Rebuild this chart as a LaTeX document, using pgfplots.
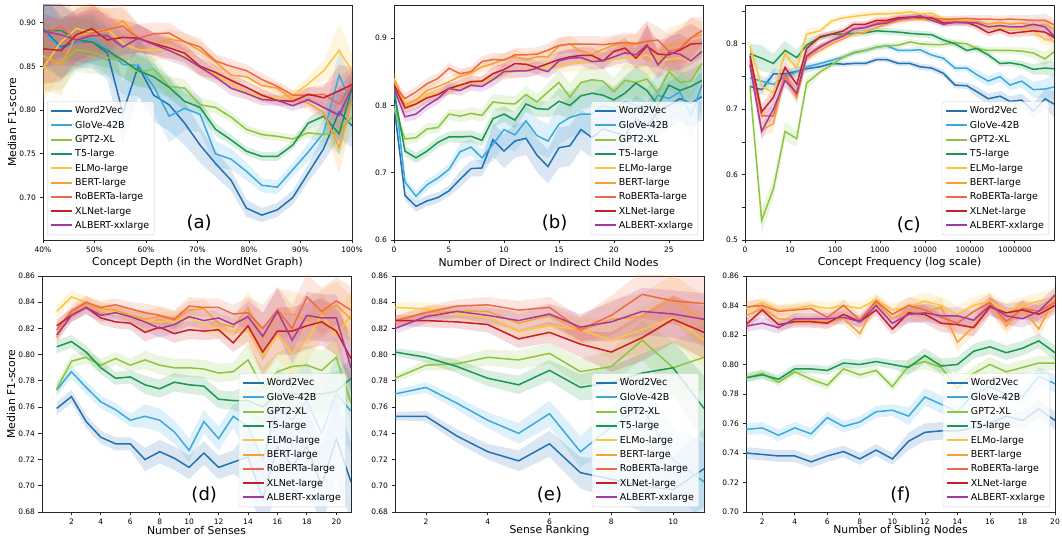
\documentclass[border=0pt]{standalone}
\usepackage{fontspec}
\setmainfont{DejaVu Sans}
\usepackage{pgfplots}
\usepackage{pgfplotstable}
\pgfplotsset{compat=1.18}
\usepgfplotslibrary{fillbetween}

\definecolor{cw}{HTML}{2171B5}
\definecolor{cg}{HTML}{3BA8DE}
\definecolor{cp}{HTML}{8CC63F}
\definecolor{ct}{HTML}{1A9850}
\definecolor{ce}{HTML}{FDC53F}
\definecolor{cb}{HTML}{F89F35}
\definecolor{cr}{HTML}{EE6A45}
\definecolor{cn}{HTML}{C81E26}
\definecolor{ca}{HTML}{A33B9F}

\pgfplotstableread{
x w g p t e b r n a el em eh
40   0.893 0.890 0.862 0.890 0.848 0.862 0.885 0.870 0.890 .040 .040 .040
43.5 0.872 0.870 0.853 0.891 0.878 0.852 0.896 0.868 0.886 .035 .030 .035
46.5 0.878 0.876 0.869 0.880 0.893 0.885 0.878 0.886 0.880 .030 .025 .030
49.5 0.878 0.882 0.866 0.878 0.889 0.888 0.888 0.893 0.885 .030 .025 .030
52.5 0.865 0.870 0.860 0.868 0.892 0.890 0.892 0.880 0.885 .030 .020 .025
55.5 0.797 0.852 0.857 0.857 0.876 0.902 0.896 0.883 0.872 .035 .020 .020
58.5 0.850 0.851 0.843 0.845 0.869 0.882 0.882 0.882 0.882 .035 .018 .016
61.5 0.817 0.827 0.847 0.838 0.868 0.875 0.887 0.876 0.875 .030 .015 .013
64.5 0.806 0.793 0.827 0.826 0.872 0.881 0.888 0.871 0.868 .030 .012 .012
67.5 0.785 0.802 0.825 0.810 0.862 0.878 0.878 0.865 0.860 .025 .010 .010
70.5 0.760 0.795 0.806 0.803 0.848 0.868 0.872 0.850 0.849 .020 .008 .010
73.5 0.739 0.750 0.803 0.778 0.840 0.855 0.856 0.843 0.838 .015 .007 .008
76.5 0.720 0.744 0.792 0.766 0.830 0.840 0.850 0.834 0.825 .012 .006 .008
79.5 0.688 0.730 0.778 0.753 0.820 0.838 0.845 0.826 0.819 .010 .005 .007
82.5 0.680 0.714 0.772 0.747 0.815 0.828 0.835 0.817 0.812 .008 .005 .007
85.5 0.686 0.712 0.770 0.747 0.815 0.825 0.827 0.811 0.811 .008 .005 .006
88.5 0.700 0.732 0.767 0.760 0.817 0.812 0.817 0.810 0.805 .008 .005 .006
91.5 0.728 0.752 0.774 0.785 0.830 0.808 0.817 0.818 0.812 .010 .006 .008
94.5 0.756 0.774 0.772 0.793 0.845 0.797 0.818 0.814 0.803 .015 .010 .012
97.5 0.798 0.840 0.775 0.773 0.868 0.757 0.807 0.822 0.794 .030 .025 .030
100  0.782 0.806 0.792 0.825 0.845 0.810 0.830 0.829 0.826 .025 .020 .020
}\ta

\pgfplotstableread{
x w g p t e b r n a el em eh
0  0.800 0.830 0.795 0.820 0.838 0.840 0.830 0.830 0.825 .010 .010 .010
1  0.666 0.686 0.750 0.732 0.798 0.800 0.810 0.796 0.783 .008 .008 .008
2  0.650 0.665 0.752 0.722 0.803 0.808 0.820 0.802 0.787 .008 .008 .008
3  0.658 0.682 0.765 0.732 0.815 0.822 0.832 0.811 0.800 .008 .008 .008
4  0.663 0.692 0.767 0.745 0.818 0.828 0.840 0.816 0.810 .008 .008 .008
5  0.673 0.705 0.787 0.753 0.822 0.835 0.855 0.825 0.825 .008 .008 .008
6  0.690 0.731 0.784 0.753 0.828 0.843 0.847 0.830 0.822 .012 .009 .008
7  0.706 0.738 0.788 0.754 0.833 0.848 0.850 0.835 0.830 .012 .009 .008
8  0.707 0.722 0.785 0.748 0.835 0.857 0.865 0.836 0.828 .012 .009 .008
9  0.749 0.742 0.805 0.780 0.840 0.862 0.868 0.847 0.838 .025 .012 .010
10 0.732 0.764 0.803 0.787 0.848 0.868 0.867 0.853 0.850 .025 .012 .010
11 0.747 0.756 0.802 0.778 0.850 0.872 0.875 0.862 0.851 .025 .012 .010
12 0.751 0.777 0.816 0.802 0.853 0.868 0.875 0.861 0.851 .025 .012 .010
13 0.726 0.755 0.805 0.795 0.855 0.872 0.876 0.856 0.855 .025 .012 .010
14 0.709 0.747 0.820 0.794 0.857 0.872 0.882 0.862 0.850 .025 .012 .010
15 0.737 0.772 0.834 0.806 0.860 0.888 0.889 0.868 0.866 .030 .020 .012
16 0.740 0.782 0.812 0.800 0.862 0.891 0.891 0.872 0.870 .030 .020 .012
17 0.764 0.787 0.834 0.814 0.863 0.880 0.891 0.874 0.871 .030 .020 .012
18 0.752 0.787 0.838 0.818 0.865 0.876 0.891 0.874 0.865 .030 .020 .012
19 0.765 0.800 0.836 0.815 0.866 0.883 0.890 0.866 0.866 .030 .020 .012
20 0.760 0.795 0.820 0.808 0.868 0.890 0.892 0.880 0.872 .030 .020 .012
21 0.755 0.805 0.837 0.818 0.870 0.889 0.893 0.885 0.878 .035 .025 .015
22 0.780 0.800 0.834 0.833 0.870 0.890 0.892 0.870 0.875 .035 .025 .015
23 0.770 0.790 0.839 0.822 0.875 0.895 0.895 0.888 0.890 .035 .025 .030
24 0.790 0.815 0.818 0.800 0.865 0.862 0.897 0.876 0.860 .035 .025 .020
25 0.800 0.810 0.850 0.830 0.868 0.890 0.880 0.875 0.878 .035 .025 .025
26 0.810 0.820 0.834 0.822 0.870 0.890 0.884 0.882 0.876 .035 .025 .030
27 0.803 0.785 0.836 0.828 0.867 0.900 0.900 0.891 0.866 .035 .025 .030
28 0.813 0.830 0.862 0.837 0.880 0.905 0.911 0.892 0.880 .035 .025 .020
}\tb

\pgfplotstableread{
x w g p t e b r n a el em eh
0.11 0.735 0.748 0.735 0.785 0.797 0.770 0.775 0.782 0.768 .008 .015 .012
0.37 0.730 0.743 0.530 0.778 0.735 0.668 0.690 0.696 0.666 .008 .020 .012
0.63 0.754 0.738 0.578 0.770 0.726 0.678 0.690 0.718 0.700 .008 .015 .012
0.89 0.754 0.750 0.666 0.790 0.785 0.750 0.752 0.764 0.744 .007 .015 .010
1.15 0.758 0.757 0.655 0.779 0.762 0.717 0.722 0.738 0.725 .007 .012 .010
1.37 0.762 0.765 0.740 0.798 0.815 0.778 0.782 0.793 0.781 .006 .010 .008
1.67 0.765 0.770 0.757 0.810 0.820 0.790 0.797 0.811 0.795 .004 .005 .005
1.93 0.770 0.775 0.768 0.815 0.835 0.800 0.805 0.815 0.805 .004 .005 .005
2.19 0.769 0.780 0.780 0.815 0.840 0.808 0.815 0.820 0.812 .004 .005 .005
2.41 0.770 0.786 0.787 0.816 0.842 0.815 0.822 0.830 0.823 .004 .005 .005
2.67 0.770 0.790 0.790 0.817 0.844 0.818 0.825 0.830 0.825 .004 .005 .005
2.93 0.776 0.795 0.795 0.820 0.846 0.825 0.832 0.836 0.830 .004 .005 .005
3.15 0.776 0.797 0.797 0.819 0.846 0.830 0.835 0.836 0.832 .004 .005 .005
3.41 0.770 0.790 0.798 0.818 0.847 0.835 0.838 0.840 0.838 .004 .005 .005
3.67 0.770 0.790 0.803 0.816 0.849 0.838 0.840 0.841 0.840 .004 .005 .005
3.89 0.765 0.791 0.800 0.815 0.846 0.838 0.842 0.840 0.843 .005 .005 .005
4.15 0.763 0.783 0.799 0.814 0.847 0.838 0.839 0.840 0.836 .005 .005 .005
4.41 0.755 0.778 0.799 0.806 0.838 0.835 0.838 0.832 0.830 .005 .005 .005
4.67 0.737 0.763 0.802 0.800 0.838 0.834 0.838 0.833 0.833 .005 .005 .005
4.93 0.736 0.763 0.800 0.790 0.835 0.835 0.839 0.833 0.832 .005 .005 .005
5.15 0.727 0.753 0.793 0.793 0.832 0.834 0.838 0.827 0.832 .008 .005 .006
5.41 0.716 0.743 0.790 0.783 0.825 0.830 0.838 0.817 0.826 .008 .005 .006
5.67 0.720 0.750 0.790 0.770 0.825 0.833 0.837 0.822 0.828 .008 .005 .006
5.89 0.712 0.737 0.790 0.771 0.822 0.830 0.838 0.816 0.826 .008 .005 .006
6.15 0.714 0.743 0.789 0.768 0.823 0.832 0.837 0.818 0.826 .010 .006 .007
6.41 0.697 0.730 0.786 0.761 0.820 0.828 0.836 0.820 0.830 .012 .008 .008
6.67 0.716 0.731 0.777 0.763 0.806 0.830 0.836 0.818 0.826 .015 .010 .010
6.87 0.708 0.734 0.788 0.762 0.806 0.823 0.829 0.810 0.812 .020 .012 .010
}\tc

\pgfplotstableread{
x w g p t e b r n a el em eh
1  0.759 0.773 0.774 0.806 0.833 0.813 0.819 0.822 0.815 .005 .005 .005
2  0.768 0.787 0.795 0.810 0.844 0.831 0.833 0.830 0.830 .005 .005 .005
3  0.749 0.775 0.798 0.802 0.840 0.839 0.840 0.836 0.836 .005 .005 .005
4  0.737 0.764 0.792 0.790 0.834 0.835 0.836 0.828 0.830 .005 .005 .005
5  0.732 0.758 0.797 0.782 0.833 0.834 0.838 0.825 0.832 .005 .005 .005
6  0.732 0.750 0.792 0.783 0.830 0.830 0.835 0.824 0.829 .005 .005 .005
7  0.720 0.753 0.796 0.777 0.826 0.827 0.832 0.817 0.825 .009 .007 .007
8  0.726 0.750 0.792 0.774 0.825 0.829 0.830 0.821 0.820 .009 .007 .007
9  0.721 0.741 0.790 0.779 0.826 0.826 0.827 0.816 0.823 .009 .007 .007
10 0.714 0.727 0.790 0.777 0.828 0.834 0.837 0.819 0.829 .009 .007 .007
11 0.725 0.749 0.789 0.776 0.823 0.835 0.836 0.818 0.826 .009 .007 .007
12 0.714 0.736 0.786 0.766 0.820 0.824 0.836 0.819 0.828 .009 .007 .007
13 0.718 0.753 0.787 0.765 0.818 0.821 0.831 0.809 0.823 .009 .007 .007
14 0.722 0.745 0.796 0.765 0.818 0.836 0.832 0.822 0.829 .020 .012 .012
15 0.690 0.720 0.775 0.760 0.799 0.813 0.820 0.802 0.814 .030 .015 .018
16 0.730 0.760 0.787 0.770 0.815 0.832 0.834 0.818 0.833 .030 .015 .018
17 0.715 0.750 0.791 0.770 0.801 0.831 0.820 0.818 0.811 .030 .015 .018
18 0.730 0.765 0.792 0.770 0.811 0.826 0.844 0.822 0.830 .030 .015 .018
19 0.700 0.740 0.788 0.770 0.830 0.831 0.833 0.825 0.828 .030 .015 .018
20 0.736 0.770 0.798 0.772 0.815 0.838 0.841 0.818 0.828 .030 .015 .018
21 0.703 0.757 0.763 0.782 0.830 0.827 0.834 0.797 0.790 .030 .015 .018
}\td

\pgfplotstableread{
x w g p t e b r n a el em eh
1  0.753 0.770 0.782 0.802 0.836 0.825 0.826 0.826 0.820 .003 .003 .004
2  0.753 0.775 0.792 0.798 0.835 0.832 0.832 0.826 0.829 .004 .004 .005
3  0.738 0.763 0.793 0.791 0.831 0.833 0.837 0.825 0.833 .005 .005 .005
4  0.726 0.750 0.798 0.782 0.828 0.833 0.838 0.823 0.830 .006 .006 .006
5  0.719 0.740 0.796 0.777 0.818 0.824 0.834 0.812 0.826 .008 .007 .007
6  0.732 0.755 0.801 0.788 0.822 0.830 0.836 0.817 0.831 .010 .008 .008
7  0.710 0.726 0.787 0.775 0.819 0.818 0.819 0.808 0.821 .012 .010 .010
8  0.705 0.745 0.791 0.779 0.811 0.827 0.830 0.802 0.825 .015 .012 .015
9  0.700 0.760 0.811 0.786 0.819 0.829 0.846 0.813 0.833 .020 .015 .018
10 0.697 0.720 0.790 0.790 0.828 0.843 0.841 0.827 0.831 .025 .020 .018
11 0.713 0.703 0.798 0.759 0.811 0.825 0.839 0.817 0.827 .030 .025 .020
}\te

\pgfplotstableread{
x w g p t e b r n a el em eh
1  0.740 0.756 0.791 0.791 0.838 0.833 0.839 0.827 0.826 .004 .003 .004
2  0.739 0.757 0.794 0.793 0.842 0.838 0.840 0.837 0.828 .004 .003 .004
3  0.738 0.752 0.788 0.790 0.837 0.831 0.836 0.827 0.825 .004 .003 .004
4  0.738 0.757 0.795 0.797 0.838 0.830 0.837 0.829 0.831 .004 .003 .004
5  0.734 0.753 0.790 0.797 0.840 0.830 0.838 0.829 0.831 .004 .003 .004
6  0.738 0.764 0.786 0.796 0.838 0.829 0.832 0.828 0.831 .004 .003 .004
7  0.741 0.758 0.797 0.801 0.840 0.831 0.840 0.834 0.832 .004 .003 .004
8  0.736 0.761 0.793 0.800 0.838 0.821 0.830 0.829 0.829 .004 .003 .004
9  0.742 0.768 0.796 0.802 0.844 0.842 0.843 0.837 0.840 .004 .003 .004
10 0.736 0.769 0.785 0.800 0.837 0.831 0.834 0.824 0.828 .004 .003 .004
11 0.748 0.765 0.799 0.798 0.839 0.836 0.840 0.835 0.834 .006 .005 .006
12 0.754 0.778 0.802 0.806 0.843 0.835 0.837 0.834 0.835 .006 .005 .006
13 0.755 0.773 0.798 0.799 0.840 0.839 0.832 0.828 0.833 .006 .005 .006
14 0.755 0.768 0.784 0.800 0.834 0.815 0.828 0.827 0.833 .006 .005 .006
15 0.757 0.780 0.794 0.809 0.840 0.826 0.836 0.825 0.830 .006 .005 .006
16 0.760 0.785 0.800 0.812 0.843 0.842 0.842 0.839 0.840 .006 .005 .006
17 0.765 0.780 0.795 0.808 0.836 0.826 0.829 0.835 0.833 .006 .005 .006
18 0.762 0.778 0.798 0.811 0.840 0.838 0.838 0.837 0.831 .006 .005 .006
19 0.770 0.792 0.801 0.816 0.843 0.824 0.836 0.834 0.836 .006 .005 .006
20 0.762 0.787 0.801 0.808 0.845 0.845 0.842 0.840 0.847 .006 .005 .006
}\tf

\newcommand{\band}[5]{%
 \addplot[name path=U#5, draw=none, forget plot] table[x=x, y expr=\thisrow{#2}+\thisrow{#3}] {#1};
 \addplot[name path=L#5, draw=none, forget plot] table[x=x, y expr=\thisrow{#2}-\thisrow{#3}] {#1};
 \addplot[fill=#4, fill opacity=0.17, draw=none, forget plot] fill between[of=U#5 and L#5];
}
\newcommand{\allseries}[1]{%
 \band{#1}{w}{el}{cw}{A}
 \band{#1}{g}{el}{cg}{B}
 \band{#1}{p}{em}{cp}{C}
 \band{#1}{t}{em}{ct}{D}
 \band{#1}{e}{eh}{ce}{E}
 \band{#1}{b}{eh}{cb}{F}
 \band{#1}{r}{eh}{cr}{G}
 \band{#1}{n}{eh}{cn}{H}
 \band{#1}{a}{eh}{ca}{I}
 \addplot[cw, ln] table[x=x, y=w] {#1};
 \addplot[cg, ln] table[x=x, y=g] {#1};
 \addplot[cp, ln] table[x=x, y=p] {#1};
 \addplot[ct, ln] table[x=x, y=t] {#1};
 \addplot[ce, ln] table[x=x, y=e] {#1};
 \addplot[cb, ln] table[x=x, y=b] {#1};
 \addplot[cr, ln] table[x=x, y=r] {#1};
 \addplot[cn, ln] table[x=x, y=n] {#1};
 \addplot[ca, ln] table[x=x, y=a] {#1};
 \legend{Word2Vec,GloVe-42B,GPT2-XL,T5-large,ELMo-large,BERT-large,RoBERTa-large,XLNet-large,ALBERT-xxlarge}
}

\pgfplotsset{
 ln/.style={line width=1.5pt},
 panel/.style={
  width=309pt, height=235pt, scale only axis, anchor=south west,
  axis line style={line width=0.8pt, black!85},
  tick align=outside, major tick length=3.5pt,
  every tick/.style={black!85, line width=0.8pt},
  tick pos=left, scaled ticks=false,
  ticklabel style={font=\fontsize{7.5}{8}\selectfont},
  /pgf/number format/assume math mode=true,
  label style={font=\fontsize{10.8}{12}\selectfont},
  xlabel style={at={(axis description cs:0.5,-0.094)}, anchor=center},
  ylabel style={at={(axis description cs:-0.1,0.5)}, anchor=center},
  legend style={font=\fontsize{9.5}{11}\selectfont, draw=black!20, fill=white,
   fill opacity=0.8, text opacity=1, rounded corners=2pt,
   inner xsep=3pt, inner ysep=3pt, row sep=1.6pt,
   at={(axis description cs:0.984,0.021)}, anchor=south east},
  legend cell align=left,
  legend image code/.code={\draw[#1, line width=2pt] (0pt,0pt) -- (21pt,0pt);},
 },
 low/.style={xlabel style={at={(axis description cs:0.5,-0.08)}, anchor=center}},
 prec2/.style={yticklabel style={/pgf/number format/.cd, fixed, fixed zerofill, precision=2}},
 prec1/.style={yticklabel style={/pgf/number format/.cd, fixed, fixed zerofill, precision=1}},
}

\begin{document}
\begin{tikzpicture}
\path (0,0) rectangle (1062pt,537pt);

\begin{axis}[panel, at={(43pt,297pt)}, xmin=40, xmax=100, ymin=0.6516, ymax=0.920,
 xtick={40,50,60,70,80,90,100}, xticklabels={40\%,50\%,60\%,70\%,80\%,90\%,100\%},
 ytick={0.70,0.75,0.80,0.85,0.90}, prec2,
 xlabel={Concept Depth (in the WordNet Graph)}, ylabel={Median F1-score},
 legend style={at={(axis description cs:0.013,0.021)}, anchor=south west}]
\allseries{\ta}
\node[font=\fontsize{18}{20}\selectfont] at (rel axis cs:0.505,0.072) {(a)};
\end{axis}

\begin{axis}[panel, at={(394pt,297pt)}, xmin=0, xmax=28.1, ymin=0.6, ymax=0.949,
 xtick={0,5,10,15,20,25}, ytick={0.6,0.7,0.8,0.9}, prec1,
 xlabel={Number of Direct or Indirect Child Nodes}]
\allseries{\tb}
\node[font=\fontsize{18}{20}\selectfont] at (rel axis cs:0.52,0.072) {(b)};
\end{axis}

\begin{axis}[panel, at={(745pt,297pt)}, xmin=0, xmax=6.87, ymin=0.5, ymax=0.8595,
 xtick={0,1,2,3,4,5,6}, xticklabels={0,10,100,1000,10000,100000,1000000},
 ytick={0.5,0.6,0.7,0.8}, minor ytick={0.55,0.65,0.75,0.85}, minor tick length=3.5pt, prec1,
 xlabel={Concept Frequency (log scale)}]
\allseries{\tc}
\node[font=\fontsize{18}{20}\selectfont] at (rel axis cs:0.53,0.065) {(c)};
\end{axis}

\begin{axis}[panel, low, at={(42pt,25pt)}, height=236pt, xmin=0, xmax=21, ymin=0.68, ymax=0.86,
 xtick={2,4,...,20}, ytick={0.68,0.70,0.72,0.74,0.76,0.78,0.80,0.82,0.84,0.86}, prec2,
 xlabel={Number of Senses}, ylabel={Median F1-score}]
\allseries{\td}
\node[font=\fontsize{18}{20}\selectfont] at (rel axis cs:0.525,0.072) {(d)};
\end{axis}

\begin{axis}[panel, low, at={(395pt,25pt)}, height=236pt, xmin=1, xmax=11, ymin=0.68, ymax=0.86,
 xtick={2,4,...,10}, ytick={0.68,0.70,0.72,0.74,0.76,0.78,0.80,0.82,0.84,0.86}, prec2,
 xlabel={Sense Ranking}]
\allseries{\te}
\node[font=\fontsize{18}{20}\selectfont] at (rel axis cs:0.5,0.072) {(e)};
\end{axis}

\begin{axis}[panel, low, at={(746pt,25pt)}, height=236pt, xmin=1, xmax=20, ymin=0.70, ymax=0.86,
 xtick={2,4,...,20}, ytick={0.70,0.72,0.74,0.76,0.78,0.80,0.82,0.84,0.86}, prec2,
 xlabel={Number of Sibling Nodes}]
\allseries{\tf}
\node[font=\fontsize{18}{20}\selectfont] at (rel axis cs:0.5,0.072) {(f)};
\end{axis}
\pgfresetboundingbox
\path[use as bounding box] (0,0) rectangle (1062pt,537pt);
\end{tikzpicture}
\end{document}
